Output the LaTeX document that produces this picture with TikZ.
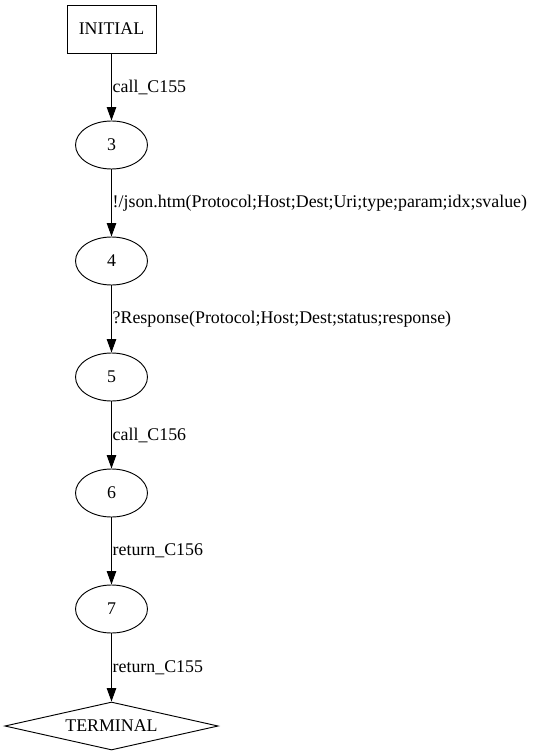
\documentclass[tikz,border=0pt]{standalone}
\usepackage{fontspec}
\setmainfont{Liberation Serif}
\usetikzlibrary{shapes.geometric,arrows.meta}
\begin{document}
\begin{tikzpicture}[x=0.75pt,y=-0.75pt,
  every node/.style={font=\fontsize{13.4}{16}\selectfont},
  state/.style={ellipse,draw,line width=0.7pt,minimum width=54pt,minimum height=36pt,inner sep=0pt},
  initbox/.style={rectangle,draw,line width=0.7pt,minimum width=66.75pt,minimum height=36pt,inner sep=0pt},
  termbox/.style={diamond,draw,line width=0.7pt,aspect=4.44,minimum width=160pt,minimum height=36pt,inner sep=0pt},
  trans/.style={draw,line width=0.8pt,-{Triangle[length=10pt,width=7pt]}},
  lbl/.style={midway,anchor=west,inner sep=0.5pt}]
\useasboundingbox (0,0) rectangle (539,755);
\node[initbox] (init) at (111.5,29) {INITIAL};
\node[state] (n3) at (111.5,145) {3};
\node[state] (n4) at (111.5,261) {4};
\node[state] (n5) at (111.5,377) {5};
\node[state] (n6) at (111.5,493) {6};
\node[state] (n7) at (111.5,609) {7};
\node[termbox] (term) at (111.5,726) {TERMINAL};
\draw[trans] (init) -- node[lbl] {call\_C155} (n3);
\draw[trans] (n3) -- node[lbl] {!/json.htm(Protocol;Host;Dest;Uri;type;param;idx;svalue)} (n4);
\draw[trans] (n4) -- node[lbl] {?Response(Protocol;Host;Dest;status;response)} (n5);
\draw[trans] (n5) -- node[lbl] {call\_C156} (n6);
\draw[trans] (n6) -- node[lbl] {return\_C156} (n7);
\draw[trans] (n7) -- node[lbl] {return\_C155} (term);
\end{tikzpicture}
\end{document}
